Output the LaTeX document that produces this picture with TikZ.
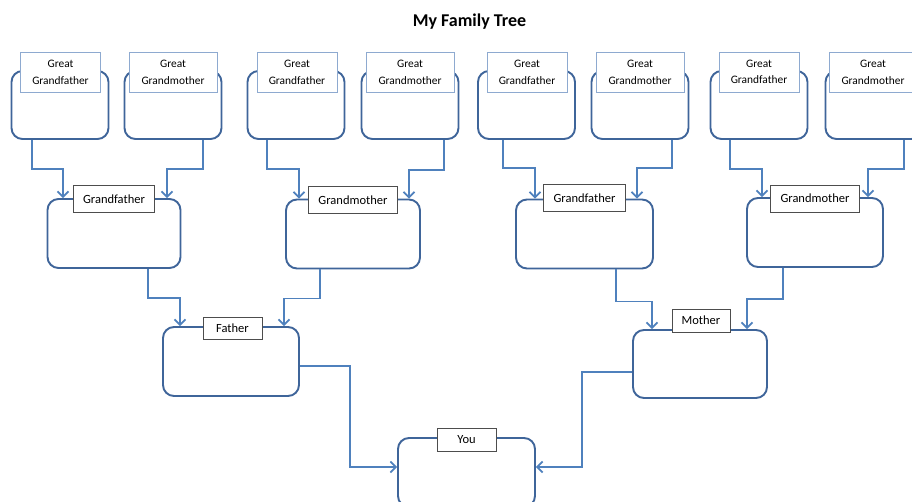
\documentclass[tikz,border=0pt]{standalone}
\usepackage{fontspec}
\setmainfont{Carlito}
\usetikzlibrary{arrows.meta}
\definecolor{boxblue}{HTML}{3F659A}
\definecolor{linkblue}{HTML}{4F81BD}
\definecolor{lightlbl}{HTML}{8EAAD0}
\definecolor{darklbl}{HTML}{4D4D4D}
\begin{document}
\begin{tikzpicture}[x=1pt,y=-1pt,
  greatbox/.style={draw=boxblue, line width=1.9pt, rounded corners=11pt, fill=white, minimum width=97pt, minimum height=68pt, inner sep=0pt},
  famb/.style={draw=boxblue, line width=1.9pt, rounded corners=11pt, fill=white, minimum height=69pt, inner sep=0pt},
  greatlbl/.style={draw=lightlbl, line width=0.9pt, fill=white, minimum height=40pt, inner sep=0pt, align=center, font=\fontsize{11.4}{16.5}\selectfont},
  lvllbl/.style={draw=darklbl, line width=0.9pt, fill=white, minimum height=27pt, inner xsep=10pt, inner ysep=0pt, font=\fontsize{12.5}{15}\selectfont},
  smlbl/.style={draw=darklbl, line width=0.9pt, fill=white, minimum height=23pt, minimum width=59pt, inner sep=0pt, font=\fontsize{12.5}{15}\selectfont},
  conn/.style={draw=linkblue, line width=1.7pt, -{Straight Barb[length=5.5pt,width=11pt]}}
]
\useasboundingbox (0,0) rectangle (912,502);
\fill[white] (0,0) rectangle (912,502);

\node[font=\bfseries\fontsize{18}{22}\selectfont] (title) at (469.5,21.5) {My Family Tree};

% great grandparents
\node[greatbox] (gg1) at (60,105) {};
\node[greatbox] (gg2) at (173,105) {};
\node[greatbox] (gg3) at (296,105) {};
\node[greatbox] (gg4) at (410,105) {};
\node[greatbox] (gg5) at (526.5,105) {};
\node[greatbox] (gg6) at (640,105) {};
\node[greatbox] (gg7) at (759,105) {};
\node[greatbox] (gg8) at (874,105) {};

\node[greatlbl, minimum width=80pt] (l1) at (60.5,72.5) {Great\\Grandfather};
\node[greatlbl, minimum width=88pt] (l2) at (173,72.5) {Great\\Grandmother};
\node[greatlbl, minimum width=80pt] (l3) at (297,72.5) {Great\\Grandfather};
\node[greatlbl, minimum width=88pt] (l4) at (410,72.5) {Great\\Grandmother};
\node[greatlbl, minimum width=80pt] (l5) at (527,72.5) {Great\\Grandfather};
\node[greatlbl, minimum width=88pt] (l6) at (640,72.5) {Great\\Grandmother};
\node[greatlbl, minimum width=80pt] (l7) at (759,72) {Great\\Grandfather};
\node[greatlbl, minimum width=88pt] (l8) at (873,72.5) {Great\\Grandmother};

% grandparents
\node[famb, minimum width=133pt] (gf1) at (114,233.5) {};
\node[famb, minimum width=134pt] (gm1) at (353,234) {};
\node[famb, minimum width=137pt] (gf2) at (584.5,234) {};
\node[famb, minimum width=136pt] (gm2) at (815,232.5) {};

\node[lvllbl] (lgf1) at ([yshift=-1pt]gf1.north) {Grandfather};
\node[lvllbl] (lgm1) at ([yshift=-1.5pt]gm1.north) {Grandmother};
\node[lvllbl] (lgf2) at ([yshift=0.5pt]gf2.north) {Grandfather};
\node[lvllbl] (lgm2) at ([yshift=-1.5pt]gm2.north) {Grandmother};

% parents
\node[famb, minimum width=136pt] (father) at (231,361.5) {};
\node[famb, minimum width=134pt, minimum height=68pt] (mother) at (700,364) {};
\node[smlbl, minimum height=22pt] (lfa) at (232.5,328) {Father};
\node[smlbl, minimum width=58pt] (lmo) at (701,320.5) {Mother};

% you
\node[famb, minimum width=137pt] (you) at (466.5,472.5) {};
\node[smlbl] (lyou) at (466.5,439.5) {You};

% connectors
\draw[conn] ([xshift=-28pt]gg1.south) -- ++(0,29) -| ([xshift=-51pt]gf1.north);
\draw[conn] ([xshift=30pt]gg2.south) -- ++(0,29) -| ([xshift=53pt]gf1.north);
\draw[conn] ([xshift=-29pt]gg3.south) -- ++(0,29) -| ([xshift=-54pt]gm1.north);
\draw[conn] ([xshift=34pt]gg4.south) -- ++(0,30) -| ([xshift=56pt]gm1.north);
\draw[conn] ([xshift=-23.5pt]gg5.south) -- ++(0,28) -| ([xshift=-49.5pt]gf2.north);
\draw[conn] ([xshift=32pt]gg6.south) -- ++(0,28) -| ([xshift=52.5pt]gf2.north);
\draw[conn] ([xshift=-29pt]gg7.south) -- ++(0,29) -| ([xshift=-53pt]gm2.north);
\draw[conn] ([xshift=30pt]gg8.south) -- ++(0,29) -| ([xshift=53pt]gm2.north);

\draw[conn] ([xshift=34pt]gf1.south) -- ++(0,29) -| ([xshift=-51pt]father.north);
\draw[conn] ([xshift=-33pt]gm1.south) -- ++(0,29) -| ([xshift=53pt]father.north);
\draw[conn] ([xshift=31.5pt]gf2.south) -- ++(0,32) -| ([xshift=-48pt]mother.north);
\draw[conn] ([xshift=-32pt]gm2.south) -- ++(0,31) -| ([xshift=47pt]mother.north);

\draw[conn] ([yshift=-4.5pt]father.east) -- ++(50,0) |- ([yshift=5.5pt]you.west);
\draw[conn] ([yshift=-8pt]mother.west) -- ++(-50,0) |- ([yshift=5.5pt]you.east);
\end{tikzpicture}
\end{document}
